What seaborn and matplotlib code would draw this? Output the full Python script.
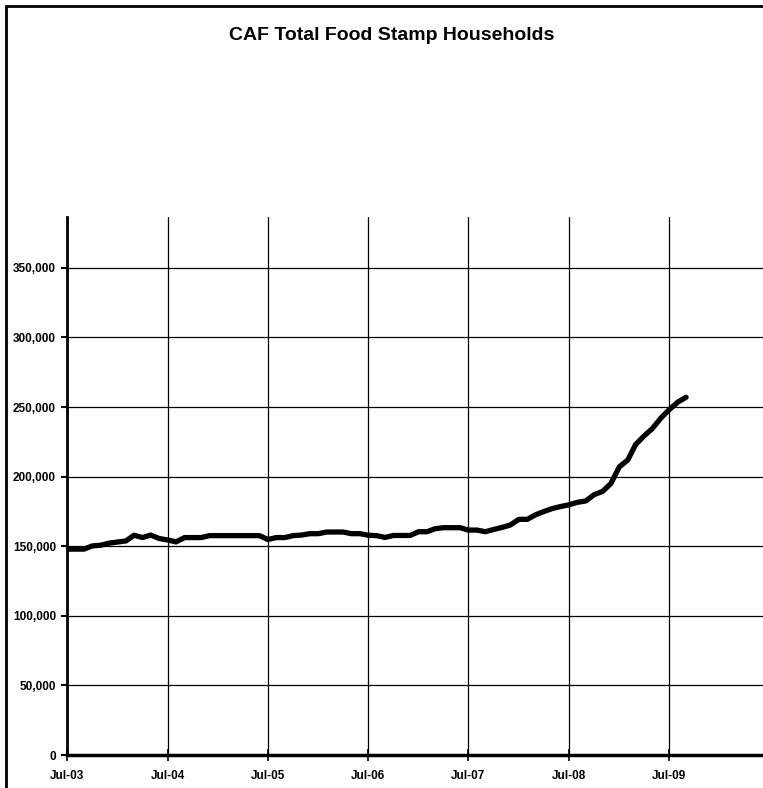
import pandas as pd
import matplotlib.pyplot as plt
import matplotlib.dates as mdates
import matplotlib.ticker as mticker
from matplotlib.patches import Rectangle
import seaborn as sns

# Monthly households, Jul-03 .. Sep-09 (thousands)
start_month = "2003-07-01"
households_k = [
    147.9, 147.9, 147.9, 150.2, 150.7, 152.2, 153.0, 153.8, 157.9, 156.2,
    158.0, 155.5, 154.5, 153.1, 156.2, 156.2, 156.2, 157.6, 157.6, 157.6,
    157.6, 157.6, 157.6, 157.6, 154.8, 156.2, 156.2, 157.6, 158.0, 159.0,
    159.0, 160.2, 160.2, 160.2, 159.0, 159.0, 157.9, 157.6, 156.3, 157.7,
    157.7, 157.7, 160.4, 160.4, 162.5, 163.3, 163.3, 163.3, 161.6, 161.6,
    160.4, 162.0, 163.5, 165.2, 169.3, 169.3, 172.5, 174.9, 177.0, 178.5,
    179.7, 181.5, 182.5, 187.0, 189.4, 195.0, 207.0, 212.0, 223.0, 229.2,
    234.5, 242.0, 248.0, 253.4, 257.0,
]
tick_years = ["2003", "2004", "2005", "2006", "2007", "2008", "2009"]
y_ticks = [0, 50000, 100000, 150000, 200000, 250000, 300000, 350000]

df = pd.DataFrame({
    "month": pd.date_range(start_month, periods=len(households_k), freq="MS"),
    "households": [v * 1000 for v in households_k],
})

sns.set_theme(style="white")
plt.rcParams["font.family"] = ["Liberation Sans", "DejaVu Sans"]
plt.rcParams.update({"text.color": "black", "xtick.color": "black",
                     "ytick.color": "black", "axes.labelcolor": "black"})

fig = plt.figure(figsize=(7.63, 7.88), dpi=100)
ax = fig.add_axes([67 / 763, 1 - 755 / 788, 1 - 67 / 763, (755 - 217) / 788])

sns.lineplot(data=df, x="month", y="households", color="black", linewidth=3.8,
             ax=ax, solid_capstyle="round", solid_joinstyle="round", zorder=3)

ax.set_ylim(0, 386500)
ax.set_xlim(pd.Timestamp("2003-07-01"), pd.Timestamp("2010-06-08"))
ax.set_yticks(y_ticks)
ax.yaxis.set_major_formatter(mticker.FuncFormatter(lambda v, p: f"{int(v):,}"))
ax.set_xticks([pd.Timestamp(f"{y}-07-01") for y in tick_years])
ax.xaxis.set_major_formatter(mdates.DateFormatter("%b-%y"))

ax.grid(True, color="black", linewidth=0.9)
ax.set_axisbelow(True)
for side in ["top", "right"]:
    ax.spines[side].set_visible(False)
ax.spines["left"].set_linewidth(2)
ax.spines["bottom"].set_linewidth(2.5)
ax.spines["left"].set_color("black")
ax.spines["bottom"].set_color("black")
ax.tick_params(axis="y", direction="out", length=4, width=1.5, color="black",
               labelsize=8.5, pad=4, left=True, labelcolor="black")
ax.tick_params(axis="x", direction="inout", length=8, width=1.2, color="black",
               labelsize=8.5, pad=7, bottom=True, labelcolor="black")
for lbl in ax.get_xticklabels() + ax.get_yticklabels():
    lbl.set_fontweight("bold")
ax.set_xlabel("")
ax.set_ylabel("")

fig.text(392 / 763, 1 - 35 / 788, "CAF Total Food Stamp Households",
         ha="center", va="center", fontsize=14, fontweight="bold", color="black")

# outer chart border (left and top edges visible)
fig.add_artist(Rectangle((6 / 763, -1), 2, 2 - 6 / 788, transform=fig.transFigure,
                         fill=False, edgecolor="black", linewidth=2))

fig.savefig("out.png", dpi=100)
